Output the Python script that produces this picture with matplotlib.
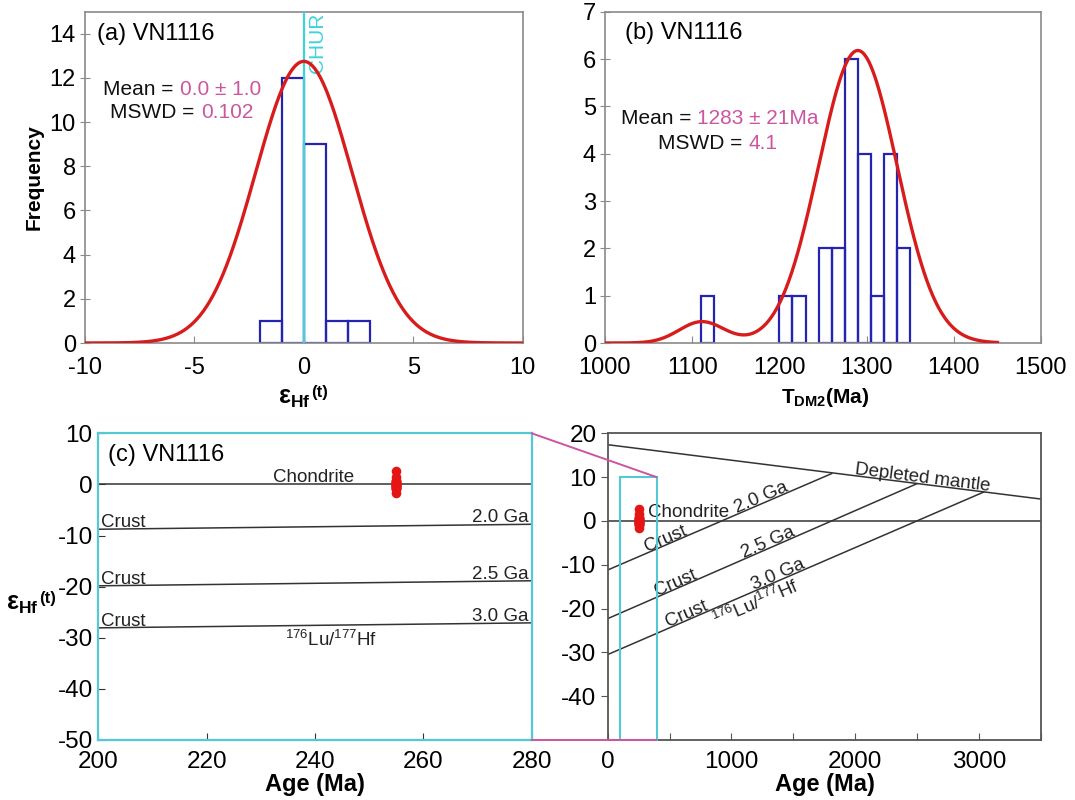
import numpy as np
import matplotlib
matplotlib.use('Agg')
import matplotlib.pyplot as plt
from matplotlib.patches import Rectangle, ConnectionPatch

plt.rcParams['font.family'] = ['Liberation Sans', 'DejaVu Sans']
plt.rcParams['mathtext.fontset'] = 'custom'
plt.rcParams['mathtext.rm'] = 'Liberation Sans'
plt.rcParams['mathtext.it'] = 'Liberation Sans:italic'
plt.rcParams['mathtext.bf'] = 'Liberation Sans:bold'
plt.rcParams['axes.unicode_minus'] = False

# ---- data ----
# eHf(t) of the analysed zircons (sample VN1116), all at ~255 Ma
ehf = [-1.6,
       -0.95, -0.85, -0.75, -0.65, -0.55, -0.45, -0.4, -0.3, -0.25, -0.2, -0.1, -0.05,
       0.05, 0.1, 0.2, 0.3, 0.4, 0.5, 0.6, 0.75, 0.9,
       1.5, 2.7]
ages = [255] * len(ehf)
ehf_bins = [-2, -1, 0, 1, 2, 3]

# T_DM2 histogram (bin start, count), bin width 15 Ma
tdm_left = [1110, 1200, 1215, 1245, 1260, 1275, 1290, 1305, 1320, 1335]
tdm_count = [1, 1, 1, 2, 2, 6, 4, 1, 4, 2]
tdm_width = 15

# probability curves: gaussian components (centre, sigma, peak)
ehf_curve = [(0.0, 2.2, 12.75)]
tdm_curve = [(1111, 26, 0.45), (1290, 45, 6.18)]

# evolution lines (age Ma, eHf)
dm_age, dm_eps = [0, 3500], [17.4, 5.0]
crust_names = ['2.0 Ga', '2.5 Ga', '3.0 Ga']
crust_start = [-11.2, -22.3, -30.5]
crust_end_age = [1810, 2500, 3040]
crust_end_eps = [10.8, 8.5, 6.6]

BLUE = '#2424b0'
RED = '#d81c1c'
MAG = '#cc55a0'
CYAN = '#55c8d5'
GRAY = '#8a8a8a'

W, H = 1075, 800
fig = plt.figure(figsize=(W / 100, H / 100), dpi=100)


def box(x0, y0, x1, y1):
    return [x0 / W, 1 - y1 / H, (x1 - x0) / W, (y1 - y0) / H]


def gauss(x, comps):
    y = np.zeros_like(x)
    for c, s, a in comps:
        y += a * np.exp(-(x - c) ** 2 / (2 * s ** 2))
    return y


def stat_line(ax, xs, y, label, value):
    ax.annotate(label, (xs, y), xytext=(-4.5, 0), textcoords='offset points',
                ha='right', va='center', fontsize=15, color='#111')
    ax.text(xs, y, value, ha='left', va='center', fontsize=15, color=MAG)


def hist_style(ax):
    for s in ax.spines.values():
        s.set_color(GRAY)
        s.set_linewidth(1.2)
    ax.tick_params(axis='x', direction='in', length=5, color=GRAY, labelsize=17, pad=10)
    ax.tick_params(axis='y', direction='inout', length=7, color=GRAY, labelsize=17, pad=3)


# ---- (a) ----
ax1 = fig.add_axes(box(85, 11.7, 522.7, 343))
ax1.set_xlim(-10, 10)
ax1.set_ylim(0, 15)
ax1.set_xticks([-10, -5, 0, 5, 10])
ax1.set_yticks(range(0, 15, 2))
hist_style(ax1)
ax1.hist(ehf, bins=ehf_bins, histtype='bar', fill=False, edgecolor=BLUE, linewidth=1.6, zorder=2)
ax1.axvline(0, color='#3fd2dd', lw=1.6, zorder=3)
ax1.text(0.2, 14.95, 'CHUR', color='#3fd2dd', rotation=90, ha='left', va='top', fontsize=15)
xa = np.linspace(-10, 10, 400)
ax1.plot(xa, gauss(xa, ehf_curve), color=RED, lw=2.4, zorder=4)
ax1.text(-9.45, 14.0, '(a) VN1116', fontsize=17, va='center', ha='left')
stat_line(ax1, -5.66, 11.5, 'Mean =', '0.0 ± 1.0')
stat_line(ax1, -4.70, 10.45, 'MSWD =', '0.102')

# ---- (b) ----
ax2 = fig.add_axes(box(605, 11.7, 1041, 343))
ax2.set_xlim(1000, 1500)
ax2.set_ylim(0, 7)
ax2.set_xticks(range(1000, 1501, 100))
ax2.set_yticks(range(0, 8))
hist_style(ax2)
ax2.bar(tdm_left, tdm_count, width=tdm_width, align='edge', fill=False,
        edgecolor=BLUE, linewidth=1.6, zorder=2)
xb = np.linspace(1000, 1450, 400)
ax2.plot(xb, gauss(xb, tdm_curve), color=RED, lw=2.4, zorder=4)
ax2.text(1023, 6.55, '(b) VN1116', fontsize=17, va='center', ha='left')
stat_line(ax2, 1106, 4.75, 'Mean =', '1283 ± 21Ma')
stat_line(ax2, 1165, 4.22, 'MSWD =', '4.1')

# ---- (c) left: zoom 200-280 Ma ----
ax3 = fig.add_axes(box(98.3, 433.3, 531.7, 740))
ax3.set_xlim(200, 280)
ax3.set_ylim(-50, 10)
ax3.set_xticks(range(200, 281, 20))
ax3.set_yticks(range(-50, 11, 10))
for s in ax3.spines.values():
    s.set_color(CYAN)
    s.set_linewidth(1.6)
ax3.tick_params(direction='in', length=5, color='#333', labelsize=17.5)
ax3.tick_params(axis='x', pad=8)
ax3.tick_params(axis='y', pad=4)

ax4 = fig.add_axes(box(607.7, 433.3, 1040.7, 740))
ax4.set_xlim(0, 3500)
ax4.set_ylim(-50, 20)
ax4.set_xticks(range(0, 3501, 500))
ax4.set_xticklabels([str(v) if v % 1000 == 0 else '' for v in range(0, 3501, 500)])
ax4.set_yticks(range(-40, 21, 10))
for s in ax4.spines.values():
    s.set_color('#555')
    s.set_linewidth(1.3)
ax4.tick_params(axis='x', direction='in', length=5, color='#555', labelsize=17.5, pad=8)
ax4.tick_params(axis='y', direction='out', length=5, color='#555', labelsize=17.5, pad=3)

for ax in (ax3, ax4):
    ax.axhline(0, color='#333', lw=1.1, zorder=2)
    for y0, xe, ye in zip(crust_start, crust_end_age, crust_end_eps):
        ax.plot([0, xe], [y0, ye], color='#333', lw=1.1, zorder=2)
    ax.scatter(ages, ehf, s=48, color='#e51515', zorder=5, linewidths=0)
ax4.plot(dm_age, dm_eps, color='#333', lw=1.1, zorder=2)


def line_label(ax, x, xs, ys, text, gap, size=13.5, va='baseline'):
    y = np.interp(x, xs, ys)
    p0 = ax.transData.transform((xs[0], ys[0]))
    p1 = ax.transData.transform((xs[1], ys[1]))
    ang = np.degrees(np.arctan2(p1[1] - p0[1], p1[0] - p0[0]))
    th = np.radians(ang)
    ax.annotate(text, (x, y), xytext=(-np.sin(th) * gap, np.cos(th) * gap),
                textcoords='offset points', rotation=ang, rotation_mode='anchor',
                ha='center', va=va, fontsize=size, color='#222')


# left panel labels
ax3.text(201.8, 5.75, '(c) VN1116', fontsize=17, va='center', ha='left')
ax3.text(239.8, 0.4, 'Chondrite', fontsize=13.5, ha='center', va='baseline', color='#222')
for name, y0, xe, ye in zip(crust_names, crust_start, crust_end_age, crust_end_eps):
    yl = y0 + (ye - y0) * 200.5 / xe
    yr = y0 + (ye - y0) * 279.5 / xe
    ax3.text(200.5, yl + 0.4, 'Crust', fontsize=13.5, ha='left', va='baseline', color='#222')
    ax3.text(279.5, yr + 0.4, name, fontsize=13.5, ha='right', va='baseline', color='#222')
ax3.text(243, -30.4, r'$^{176}$Lu/$^{177}$Hf', fontsize=13.5, ha='center', va='center', color='#222')

# right panel labels
ax4.text(326, 0.9, 'Chondrite', fontsize=13.5, ha='left', va='baseline', color='#222')
line_label(ax4, 2540, dm_age, dm_eps, 'Depleted mantle', 1.5)
crust_pos = [(487, 1258), (568, 1314), (653, 1397)]
for name, y0, xe, ye, (xc, xg) in zip(crust_names, crust_start, crust_end_age,
                                      crust_end_eps, crust_pos):
    line_label(ax4, xc, [0, xe], [y0, ye], 'Crust', 1.0)
    line_label(ax4, xg, [0, xe], [y0, ye], name, 1.0)
line_label(ax4, 1162, [0, crust_end_age[2]], [crust_start[2], crust_end_eps[2]],
           r'$^{176}$Lu/$^{177}$Hf', -1.5, va='top')

# zoom box and connectors
ax4.add_patch(Rectangle((100, -50), 295, 60, fill=False, edgecolor=CYAN, lw=1.5,
                        zorder=4, clip_on=False))
for yy in (10, -50):
    con = ConnectionPatch(xyA=(280, yy), coordsA='data', axesA=ax3,
                          xyB=(395, yy), coordsB='data', axesB=ax4,
                          color=MAG, lw=1.4)
    fig.add_artist(con)


# axis titles
def ftxt(x, y, s, **kw):
    return fig.text(x / W, 1 - y / H, s, va='center', **kw)


def eps_label(x, y, ha):
    t = ftxt(x, y, r'$\mathbf{ε}_{\mathbf{Hf}}$', fontsize=18, ha=ha)
    ax1.annotate('(t)', xy=(1.0, 0.72), xycoords=t, xytext=(0.5, 0),
                 textcoords='offset points', ha='left', va='center',
                 fontsize=12, fontweight='bold', annotation_clip=False)


ftxt(34, 177, 'Frequency', fontsize=15, fontweight='bold', rotation=90, ha='center')
eps_label(294, 398, 'center')
ftxt(825, 397, r'$\mathbf{T}_{\mathbf{DM2}}\mathbf{(Ma)}$', fontsize=15, ha='center')
eps_label(6, 604, 'left')
ftxt(315, 785, 'Age (Ma)', fontsize=17, fontweight='bold', ha='center')
ftxt(825, 785, 'Age (Ma)', fontsize=17, fontweight='bold', ha='center')

fig.savefig('out.png', dpi=100, facecolor='white')
